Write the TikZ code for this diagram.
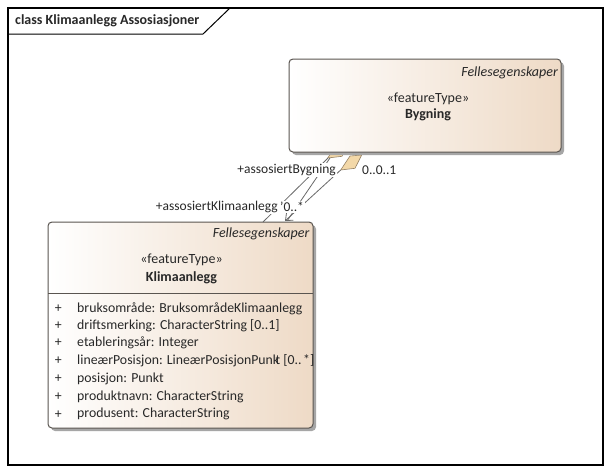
\documentclass[tikz,border=0pt]{standalone}
\usepackage{fontspec}
\setmainfont{Carlito}
\usetikzlibrary{arrows.meta}

\definecolor{ink}{RGB}{40,40,40}
\definecolor{boxedge}{RGB}{90,85,80}
\definecolor{beige}{RGB}{238,218,198}
\definecolor{linkgray}{RGB}{105,105,105}
\definecolor{diafill}{RGB}{243,216,168}
\definecolor{diaedge}{RGB}{150,130,100}

\tikzset{
  classbox/.style={draw=boxedge, line width=1pt, rounded corners=4pt,
    left color=white, right color=beige},
  shadowbox/.style={fill=black!35, rounded corners=4pt, draw=none},
  txt/.style={inner sep=0pt, text=ink, font=\fontsize{14}{16}\selectfont},
  attr/.style={inner sep=0pt, text=ink, font=\fontsize{13.8}{16}\selectfont},
  lbl/.style={inner sep=1pt, fill=white, text=ink, font=\fontsize{13.5}{15}\selectfont},
  link/.style={draw=linkgray, line width=0.8pt},
  agg/.style={fill=diafill, draw=diaedge, line width=0.6pt},
}

\begin{document}
\begin{tikzpicture}[x=1pt, y=-1pt]
\useasboundingbox (0,0) rectangle (611,474);
\fill[white] (0,0) rectangle (611,474);

% diagram frame with its name tab
\draw[line width=1.4pt] (8,8) rectangle (603,465);
\draw[line width=1pt] (8,34) -- (203,34) -- (230,8);
\node[txt, anchor=west, font=\fontsize{14}{16}\selectfont\bfseries] (title) at (15,21)
  {class Klimaanlegg Assosiasjoner};

% aggregation diamonds at the Bygning end
\draw[agg] (337,144) -- (348.7,143) -- (342,156.3) -- (327.7,158) -- cycle;
\draw[agg] (350,156) -- (361.7,155) -- (355,168.3) -- (340.7,170) -- cycle;
\coordinate (d1) at (328,158);
\coordinate (d1b) at (330,158);
\coordinate (d2) at (340.7,170);

% Bygning class
\fill[shadowbox] (292,62) rectangle (564,155);
\draw[classbox] (289,59) rectangle (561,152);
\node[txt, anchor=east, font=\fontsize{14}{16}\selectfont\itshape] (bfe) at (558,72.5) {Fellesegenskaper};
\node[txt] (bst) at (428,99) {«featureType»};
\node[txt, font=\fontsize{14}{16}\selectfont\bfseries] (bnm) at (428,115) {Bygning};

% Klimaanlegg class
\fill[shadowbox] (51,225) rectangle (316,431);
\draw[classbox] (48,222) rectangle (313,428);
\draw[draw=boxedge, line width=0.8pt] (48,293) -- (313,293);
\node[txt, anchor=east, font=\fontsize{14}{16}\selectfont\itshape] (kfe) at (309.5,234) {Fellesegenskaper};
\node[txt] (kst) at (181.5,259.5) {«featureType»};
\node[txt, font=\fontsize{14}{16}\selectfont\bfseries] (knm) at (181.5,278) {Klimaanlegg};

\coordinate (k1) at (263,222);
\coordinate (k2) at (285,221);
\coordinate (k3) at (287,221);

% attributes
\foreach \y/\t [count=\i] in {
  308.3/{bruksområde: BruksområdeKlimaanlegg},
  325.5/{driftsmerking: CharacterString [0..1]},
  343/{etableringsår: Integer},
  361/{lineærPosisjon: LineærPosisjonPunk\kern-3.5pt t [0..\kern1.5pt*]},
  379/{posisjon: Punkt},
  396.7/{produktnavn: CharacterString},
  414.3/{produsent: CharacterString}} {
  \node[attr] (p\i) at (58.3,\y) {+};
  \node[attr, anchor=west] (a\i) at (77,\y) {\t};
}

% associations between the two classes
\draw[link] (d1) -- (k1);
\draw[link] (d1b) -- (k3);
\draw[link, -{Straight Barb[length=6pt, width=10pt]}] (d2) -- (k2);

% role names and multiplicities
\node[lbl, anchor=east] (rb) at (337,170) {+assosiertBygning};
\node[lbl, anchor=west] (mb) at (361,170) {0..0..1};
\node[lbl, anchor=east] (rk) at (279,207) {+assosiertKlimaanlegg};
\node[lbl, anchor=west] (mk) at (279,207) {'0..*};
\end{tikzpicture}
\end{document}
